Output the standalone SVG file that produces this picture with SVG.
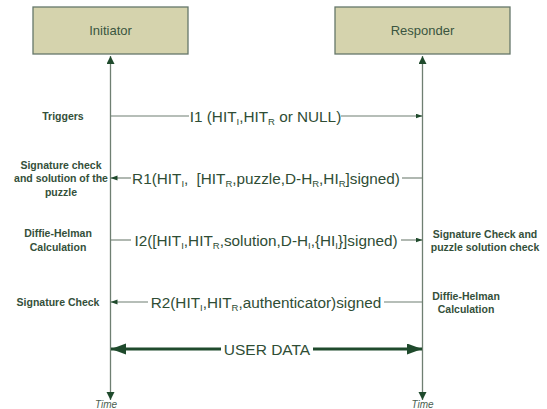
<svg xmlns="http://www.w3.org/2000/svg" width="547" height="409" viewBox="0 0 547 409">
<style>
.box{fill:#d5d3ad;stroke:#66776a;stroke-width:1.3}
.boxlbl{font-family:"Liberation Sans",Arial,sans-serif;font-size:13px;fill:#3a5540;text-anchor:middle}
.life{stroke:#6f7f72;stroke-width:1.3;fill:none}
.msg{stroke:#6f7f72;stroke-width:1.1;fill:none}
.data{stroke:#1f4a2c;stroke-width:3;fill:none}
.ml{font-family:"Liberation Sans",Arial,sans-serif;font-size:15.3px;fill:#2f4d35;text-anchor:middle}
.sub{font-size:9.5px}
.side{font-family:"Liberation Sans",Arial,sans-serif;font-size:10.5px;font-weight:bold;fill:#34503a;text-anchor:middle}
.time{font-family:"Liberation Sans",Arial,sans-serif;font-size:10px;font-style:italic;fill:#4a5e50;text-anchor:middle}
</style>
<defs>
<marker id="lifeArrow" markerUnits="userSpaceOnUse" markerWidth="9" markerHeight="9" refX="8" refY="4" orient="auto-start-reverse">
<path d="M0,0 L8,4 L0,8 z" fill="#1f4a2c"/>
</marker>
<marker id="msgArrow" markerUnits="userSpaceOnUse" markerWidth="8" markerHeight="6" refX="7" refY="2.5" orient="auto-start-reverse">
<path d="M0,0 L7,2.5 L0,5 z" fill="#1f4a2c"/>
</marker>
<marker id="dataArrow" markerUnits="userSpaceOnUse" markerWidth="16" markerHeight="12" refX="15" refY="5.5" orient="auto-start-reverse">
<path d="M0,0 L15,5.5 L0,11 z" fill="#1f4a2c"/>
</marker>
</defs>

<g id="initiator">
<rect class="box" x="33" y="7" width="155" height="47"/>
<text class="boxlbl" x="110.5" y="35">Initiator</text>
</g>
<g id="responder">
<rect class="box" x="335" y="7" width="175" height="47"/>
<text class="boxlbl" x="422.5" y="35">Responder</text>
</g>

<g id="connectors">
<line class="life" x1="110.5" y1="56" x2="110.5" y2="400" marker-start="url(#lifeArrow)" marker-end="url(#lifeArrow)"/>
<line class="life" x1="422.5" y1="56" x2="422.5" y2="400" marker-start="url(#lifeArrow)" marker-end="url(#lifeArrow)"/>

<g id="msg-i1">
<line class="msg" x1="110.5" y1="116" x2="189" y2="116"/>
<line class="msg" x1="341" y1="116" x2="422.5" y2="116" marker-end="url(#msgArrow)"/>
<text class="ml" x="265.5" y="121.5">I1 (HIT<tspan class="sub" dy="3">I</tspan><tspan dy="-3">,HIT</tspan><tspan class="sub" dy="3">R</tspan><tspan dy="-3"> or NULL)</tspan></text>
</g>
<g id="msg-r1">
<line class="msg" x1="131" y1="178" x2="110.5" y2="178" marker-end="url(#msgArrow)"/>
<line class="msg" x1="402" y1="178" x2="422.5" y2="178"/>
<text class="ml" x="266" y="183.5">R1(HIT<tspan class="sub" dy="3">I</tspan><tspan dy="-3">, </tspan><tspan dx="4">[HIT</tspan><tspan class="sub" dy="3">R</tspan><tspan dy="-3">,puzzle,D-H</tspan><tspan class="sub" dy="3">R</tspan><tspan dy="-3">,HI</tspan><tspan class="sub" dy="3">R</tspan><tspan dy="-3">]signed)</tspan></text>
</g>
<g id="msg-i2">
<line class="msg" x1="110.5" y1="240" x2="131" y2="240"/>
<line class="msg" x1="401" y1="240" x2="422.5" y2="240" marker-end="url(#msgArrow)"/>
<text class="ml" x="266" y="245.5">I2([HIT<tspan class="sub" dy="3">I</tspan><tspan dy="-3">,HIT</tspan><tspan class="sub" dy="3">R</tspan><tspan dy="-3">,solution,D-H</tspan><tspan class="sub" dy="3">I</tspan><tspan dy="-3">,{HI</tspan><tspan class="sub" dy="3">I</tspan><tspan dy="-3">}]signed)</tspan></text>
</g>
<g id="msg-r2">
<line class="msg" x1="148" y1="302" x2="110.5" y2="302" marker-end="url(#msgArrow)"/>
<line class="msg" x1="384" y1="302" x2="422.5" y2="302"/>
<text class="ml" x="266" y="307.5">R2(HIT<tspan class="sub" dy="3">I</tspan><tspan dy="-3">,HIT</tspan><tspan class="sub" dy="3">R</tspan><tspan dy="-3">,authenticator)signed</tspan></text>
</g>
<g id="msg-data">
<line class="data" x1="221" y1="349" x2="111" y2="349" marker-end="url(#dataArrow)"/>
<line class="data" x1="313" y1="349" x2="422" y2="349" marker-end="url(#dataArrow)"/>
<text class="ml" x="267" y="354.5" style="font-size:15.5px">USER DATA</text>
</g>
</g>

<g id="labels">
<text class="side" x="63" y="120">Triggers</text>
<text class="side" x="61" y="169">Signature check</text>
<text class="side" x="61" y="182">and solution of the</text>
<text class="side" x="61" y="196">puzzle</text>
<text class="side" x="58" y="237">Diffie-Helman</text>
<text class="side" x="58" y="251">Calculation</text>
<text class="side" x="485" y="238">Signature Check and</text>
<text class="side" x="485" y="251">puzzle solution check</text>
<text class="side" x="58" y="306">Signature Check</text>
<text class="side" x="466" y="300">Diffie-Helman</text>
<text class="side" x="466" y="313">Calculation</text>
<text class="time" x="106" y="408">Time</text>
<text class="time" x="422.5" y="408">Time</text>
</g>
</svg>
